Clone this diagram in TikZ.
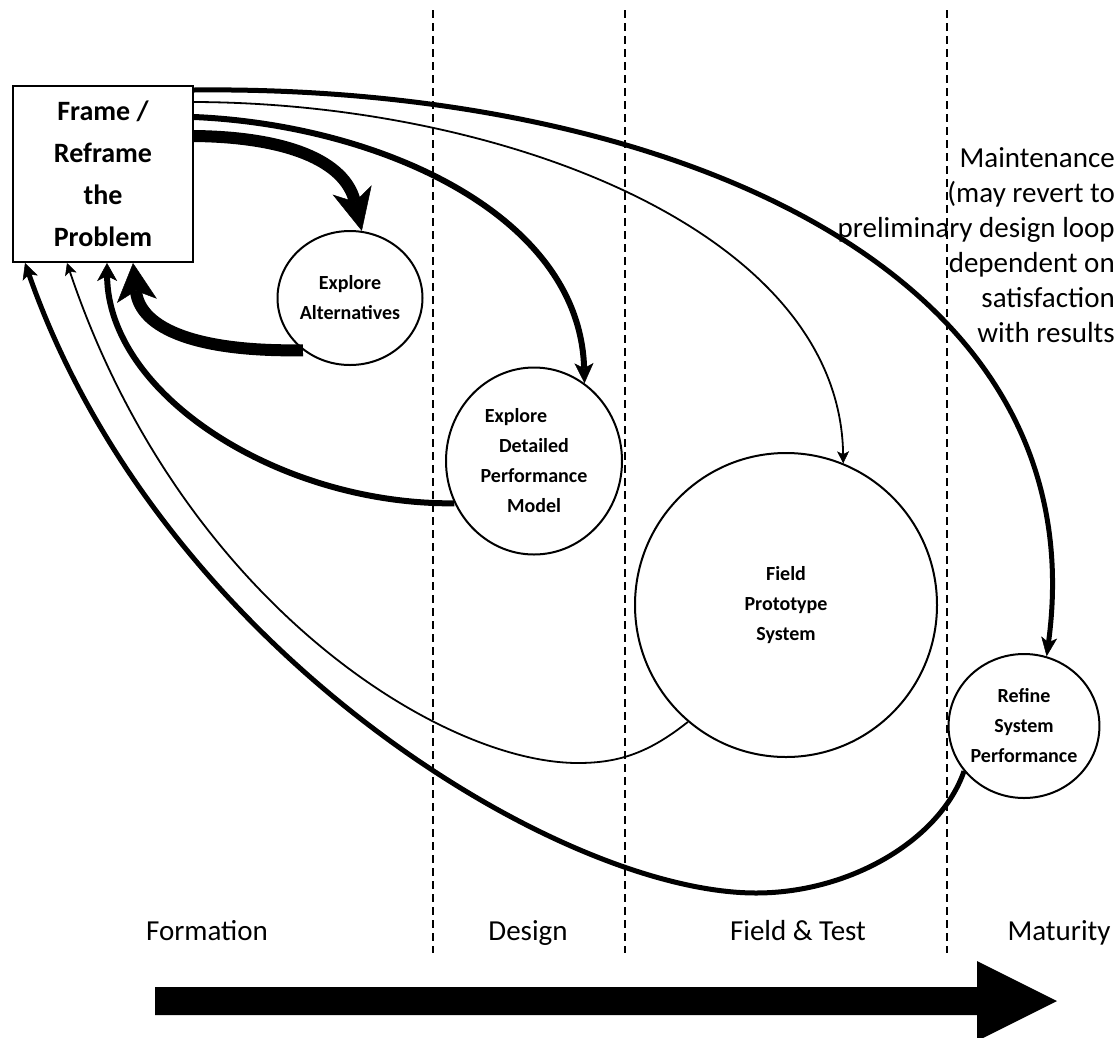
\documentclass[tikz,border=0pt]{standalone}
\usepackage{fontspec}
\setmainfont{Carlito}
\usetikzlibrary{arrows.meta,shapes.geometric}
\begin{document}
\begin{tikzpicture}[x=1pt,y=-1pt,
  circ/.style={draw,line width=2pt,ellipse,inner sep=0pt,align=center,font=\fontsize{20}{30}\selectfont\bfseries},
  framebox/.style={draw,line width=2pt,inner sep=0pt,align=center,font=\fontsize{28}{42}\selectfont\bfseries},
  lbl/.style={font=\fontsize{29}{35}\selectfont},
  phase/.style={line width=2pt,dash pattern=on 8pt off 5pt},
  lwvthick/.style={line width=12pt},
  lwthick/.style={line width=6pt},
  lwmed/.style={line width=5pt},
  lwthin/.style={line width=1.8pt},
  bigtip/.style={-{Stealth[length=42pt,width=40pt,inset=12pt,line width=0.5pt]}},
  medtip/.style={-{Stealth[length=20pt,width=19pt,inset=5pt,line width=0.5pt]}},
  smalltip/.style={-{Stealth[length=16pt,width=16pt,inset=4pt,line width=0.5pt]}},
  thintip/.style={-{Stealth[length=12pt,width=12pt,inset=3pt,line width=0.5pt]}}
]
\useasboundingbox (0,0) rectangle (1117,1037);

% nodes
\node[framebox,minimum width=180pt,minimum height=176pt] (frame) at (103,174) {Frame /\\Reframe\\the\\Problem};
\node[circ,minimum width=145pt,minimum height=134pt] (alt) at (350,298) {Explore\\Alternatives};
\node[circ,minimum width=176pt,minimum height=187pt] (det) at (534,461) {Explore\makebox[36pt]{}\\Detailed\\Performance\\Model};
\node[circ,minimum width=302pt,minimum height=304pt] (fps) at (786,605) {Field\\Prototype\\System};
\node[circ,minimum width=148pt,minimum height=144pt] (ref) at (1024,726) {Refine\\System\\Performance};

\node[lbl,align=right,anchor=east,inner sep=0pt] (maint) at (1115,245)
  {Maintenance\\(may revert to\\preliminary design loop\\dependent on\\satisfaction\\with results};

\node[lbl,anchor=base,inner sep=0pt] (formation) at (207,940) {Formation};
\node[lbl,anchor=base,inner sep=0pt] (design) at (528,940) {Design};
\node[lbl,anchor=base,inner sep=0pt] (fieldtest) at (798,940) {Field \& Test};
\node[lbl,anchor=base,inner sep=0pt] (maturity) at (1059,940) {Maturity};

% phase separators
\coordinate (d1a) at (433,10);  \coordinate (d1b) at (433,953);
\coordinate (d2a) at (625,10);  \coordinate (d2b) at (625,953);
\coordinate (d3a) at (947,10);  \coordinate (d3b) at (947,953);
\draw[phase] (d1a) -- (d1b);
\draw[phase] (d2a) -- (d2b);
\draw[phase] (d3a) -- (d3b);

% forward connectors from the frame box
\draw[lwvthick,bigtip] ([yshift=-51pt]frame.north east) .. controls (285,137) and (345,160) .. (alt.80);
\draw[lwthick,medtip] ([yshift=-32pt]frame.north east) .. controls (380,125) and (580,215) .. (det.57);
\draw[lwthin,thintip] ([yshift=-17pt]frame.north east) .. controls (500,103) and (840,230) .. (fps.68);
\draw[lwmed,-{Stealth[length=19pt,width=16pt,inset=5pt,line width=0.5pt]}] ([yshift=-5pt]frame.north east) .. controls (650,85) and (1100,260) .. (ref.72);

% return connectors to the frame box
\draw[lwvthick,-{Stealth[length=38pt,width=40pt,inset=10pt,line width=0.5pt]}] (alt.228) .. controls (200,352) and (140,330) .. ([xshift=30pt]frame.south);
\draw[lwthick,-{Stealth[length=18pt,width=20pt,inset=5pt,line width=0.5pt]}] (det.208) .. controls (280,505) and (108,395) .. ([xshift=4pt]frame.south);
\coordinate (gbot) at (578,763);
\draw[lwthin,thintip] (fps.230) .. controls (650,752) and (620,763) .. (gbot)
  .. controls (440,763) and (180,600) .. ([xshift=-36pt]frame.south);
\coordinate (hbot) at (756,893);
\draw[lwmed,smalltip] (ref.217) .. controls (940,840) and (850,893) .. (hbot)
  .. controls (560,893) and (160,650) .. ([xshift=-78pt]frame.south);

% time arrow
\fill (155,987) -- (977,987) -- (977,961) -- (1057,1001) -- (977,1041) -- (977,1015) -- (155,1015) -- cycle;
\end{tikzpicture}
\end{document}
